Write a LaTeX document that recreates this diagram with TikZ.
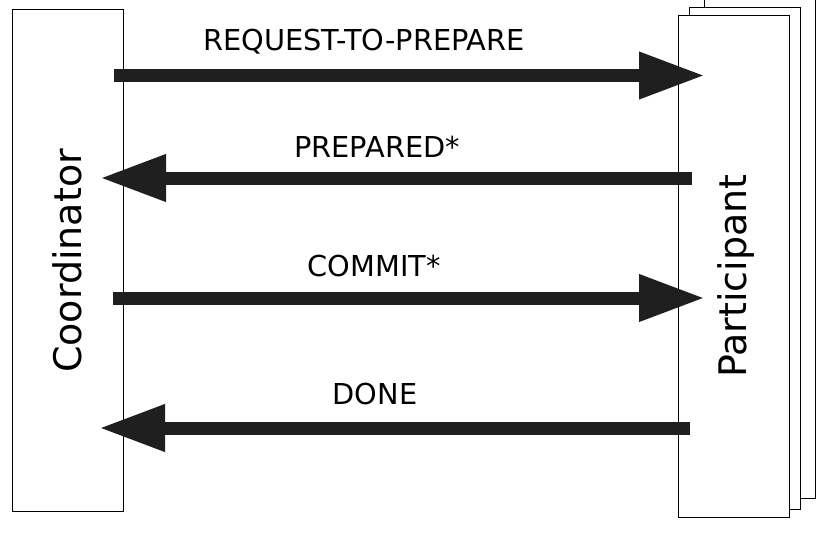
\documentclass[tikz,border=0pt]{standalone}
\usepackage{fontspec}
\setmainfont{DejaVu Sans}
\usetikzlibrary{arrows.meta,positioning}

\begin{document}
\begin{tikzpicture}[x=1pt,y=-1pt,
  party/.style={draw,line width=1pt,fill=white,minimum width=111pt,minimum height=502pt,inner sep=0pt},
  msg/.style={line width=13pt,draw=black!88,-{Triangle[length=66pt,width=44pt,fill=black!88]}},
  lbl/.style={font=\fontsize{28.8}{30}\selectfont,inner sep=0pt}]

\useasboundingbox (0,0) rectangle (826,538);

\node[party] (coord) at (67.5,260) {};
\node[party] (part3) at (759.5,247) {};
\node[party] (part2) at (744.5,258) {};
\node[party] (part) at (733.5,266) {};

\node[rotate=90,font=\fontsize{38}{40}\selectfont] (coordtext) at (67,261) {Coordinator};
\node[rotate=90,font=\fontsize{38}{40}\selectfont] (parttext) at (736,276) {Participant};

% message ends
\coordinate (req-a) at (114,75.5);
\coordinate (req-b) at (705,75.5);
\coordinate (prep-a) at (692,178);
\coordinate (prep-b) at (100,178);
\coordinate (com-a) at (113,298);
\coordinate (com-b) at (705,298);
\coordinate (done-a) at (690,428);
\coordinate (done-b) at (99,428);

\draw[msg] (req-a) -- (req-b);
\draw[msg] (prep-a) -- (prep-b);
\draw[msg] (com-a) -- (com-b);
\draw[msg] (done-a) -- (done-b);

\node[lbl] (reqlbl) at (364,42) {REQUEST-TO-PREPARE};
\node[lbl] (preplbl) at (377,147) {PREPARED*};
\node[lbl] (comlbl) at (374,266) {COMMIT*};
\node[lbl] (donelbl) at (375,394) {DONE};

\end{tikzpicture}
\end{document}
